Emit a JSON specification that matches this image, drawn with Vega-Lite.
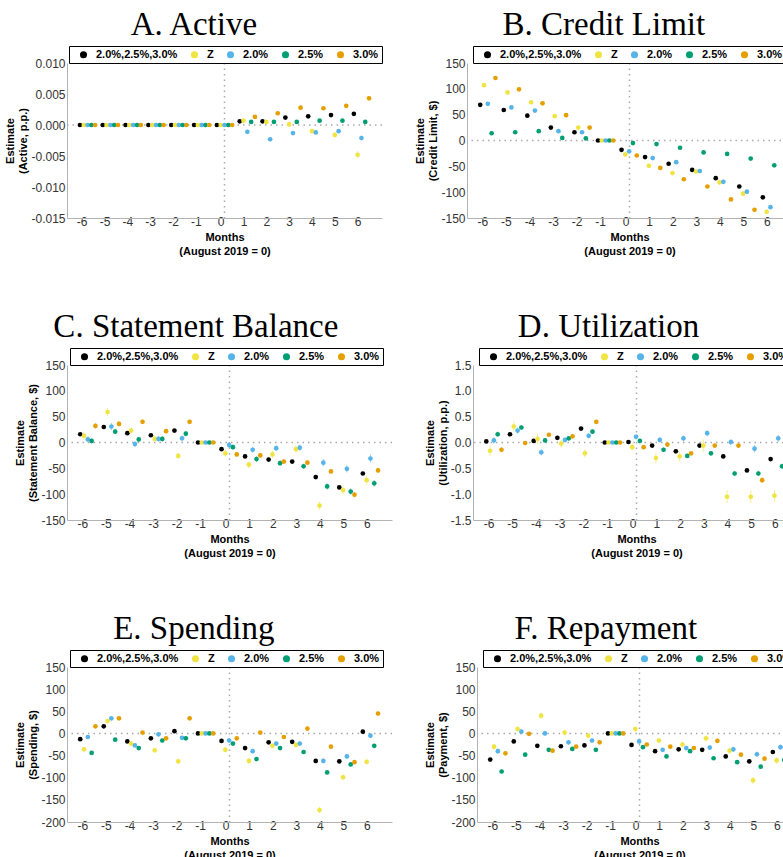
{
"$schema": "https://vega.github.io/schema/vega-lite/v6.json",
"background": "white",
"padding": {"left": 4, "top": 8, "right": 0, "bottom": 0},
"config": {
 "view": {"stroke": null},
 "font": "Liberation Sans",
 "axis": {"labelFont": "Liberation Sans", "labelFontSize": 12, "labelColor": "#333333", "titleFont": "Liberation Sans", "titleFontSize": 11, "titleFontWeight": "bold", "titleColor": "black", "titleLineHeight": 13, "grid": false, "domainColor": "#b3b3b3", "tickColor": "#b3b3b3", "tickSize": 2, "labelOverlap": false},
 "axisX": {"titleLineHeight": 14},
 "axisY": {"ticks": false, "tickCount": 12, "labelPadding": 2, "titlePadding": 2},
 "title": {"font": "Liberation Serif", "fontSize": 33, "fontWeight": "normal", "color": "black", "frame": "bounds", "anchor": "middle", "offset": 4},
 "legend": {"strokeColor": "black", "strokeWidth": 1, "fillColor": "white", "padding": 3, "symbolType": "circle", "symbolSize": 50, "symbolStrokeWidth": 0, "symbolOpacity": 1, "symbolOffset": 6, "labelFont": "Liberation Sans", "labelFontWeight": "bold", "labelFontSize": 11, "labelColor": "black", "labelOffset": 7, "columnPadding": 5}
},
"datasets": {"d": [
{"p":"A","m":-6,"s":"2.0%,2.5%,3.0%","y":0,"e":0},{"p":"A","m":-6,"s":"Z","y":0,"e":0},{"p":"A","m":-6,"s":"2.0%","y":0,"e":0},{"p":"A","m":-6,"s":"2.5%","y":0,"e":0},{"p":"A","m":-6,"s":"3.0%","y":0,"e":0},
{"p":"A","m":-5,"s":"2.0%,2.5%,3.0%","y":0,"e":0},{"p":"A","m":-5,"s":"Z","y":0,"e":0},{"p":"A","m":-5,"s":"2.0%","y":0,"e":0},{"p":"A","m":-5,"s":"2.5%","y":0,"e":0},{"p":"A","m":-5,"s":"3.0%","y":0,"e":0},
{"p":"A","m":-4,"s":"2.0%,2.5%,3.0%","y":0,"e":0},{"p":"A","m":-4,"s":"Z","y":0,"e":0},{"p":"A","m":-4,"s":"2.0%","y":0,"e":0},{"p":"A","m":-4,"s":"2.5%","y":0,"e":0},{"p":"A","m":-4,"s":"3.0%","y":0,"e":0},
{"p":"A","m":-3,"s":"2.0%,2.5%,3.0%","y":0,"e":0},{"p":"A","m":-3,"s":"Z","y":0,"e":0},{"p":"A","m":-3,"s":"2.0%","y":0,"e":0},{"p":"A","m":-3,"s":"2.5%","y":0,"e":0},{"p":"A","m":-3,"s":"3.0%","y":0,"e":0},
{"p":"A","m":-2,"s":"2.0%,2.5%,3.0%","y":0,"e":0},{"p":"A","m":-2,"s":"Z","y":0,"e":0},{"p":"A","m":-2,"s":"2.0%","y":0,"e":0},{"p":"A","m":-2,"s":"2.5%","y":0,"e":0},{"p":"A","m":-2,"s":"3.0%","y":0,"e":0},
{"p":"A","m":-1,"s":"2.0%,2.5%,3.0%","y":0,"e":0},{"p":"A","m":-1,"s":"Z","y":0,"e":0},{"p":"A","m":-1,"s":"2.0%","y":0,"e":0},{"p":"A","m":-1,"s":"2.5%","y":0,"e":0},{"p":"A","m":-1,"s":"3.0%","y":0,"e":0},
{"p":"A","m":0,"s":"2.0%,2.5%,3.0%","y":0,"e":0},{"p":"A","m":0,"s":"Z","y":0,"e":0},{"p":"A","m":0,"s":"2.0%","y":0,"e":0},{"p":"A","m":0,"s":"2.5%","y":0,"e":0},{"p":"A","m":0,"s":"3.0%","y":0,"e":0},
{"p":"A","m":1,"s":"2.0%,2.5%,3.0%","y":0.0006,"e":0.0001},{"p":"A","m":1,"s":"Z","y":0.0007,"e":0.0003},{"p":"A","m":1,"s":"2.0%","y":-0.0011,"e":0.0003},{"p":"A","m":1,"s":"2.5%","y":0.0005,"e":0.0002},{"p":"A","m":1,"s":"3.0%","y":0.0013,"e":0.0002},
{"p":"A","m":2,"s":"2.0%,2.5%,3.0%","y":0.0006,"e":0.0001},{"p":"A","m":2,"s":"Z","y":0.0005,"e":0.0003},{"p":"A","m":2,"s":"2.0%","y":-0.0023,"e":0.0003},{"p":"A","m":2,"s":"2.5%","y":0.0005,"e":0.0002},{"p":"A","m":2,"s":"3.0%","y":0.0019,"e":0.0002},
{"p":"A","m":3,"s":"2.0%,2.5%,3.0%","y":0.0012,"e":0.0001},{"p":"A","m":3,"s":"Z","y":0.0001,"e":0.0004},{"p":"A","m":3,"s":"2.0%","y":-0.0013,"e":0.0003},{"p":"A","m":3,"s":"2.5%","y":0.0005,"e":0.0002},{"p":"A","m":3,"s":"3.0%","y":0.0028,"e":0.0002},
{"p":"A","m":4,"s":"2.0%,2.5%,3.0%","y":0.0014,"e":0.0001},{"p":"A","m":4,"s":"Z","y":-0.0010,"e":0.0004},{"p":"A","m":4,"s":"2.0%","y":-0.0012,"e":0.0003},{"p":"A","m":4,"s":"2.5%","y":0.0007,"e":0.0002},{"p":"A","m":4,"s":"3.0%","y":0.0027,"e":0.0002},
{"p":"A","m":5,"s":"2.0%,2.5%,3.0%","y":0.0016,"e":0.0001},{"p":"A","m":5,"s":"Z","y":-0.0016,"e":0.0005},{"p":"A","m":5,"s":"2.0%","y":-0.0010,"e":0.0003},{"p":"A","m":5,"s":"2.5%","y":0.0007,"e":0.0002},{"p":"A","m":5,"s":"3.0%","y":0.0031,"e":0.0002},
{"p":"A","m":6,"s":"2.0%,2.5%,3.0%","y":0.0018,"e":0.0001},{"p":"A","m":6,"s":"Z","y":-0.0048,"e":0.0006},{"p":"A","m":6,"s":"2.0%","y":-0.0021,"e":0.0004},{"p":"A","m":6,"s":"2.5%","y":0.0005,"e":0.0002},{"p":"A","m":6,"s":"3.0%","y":0.0043,"e":0.0002},

{"p":"B","m":-6,"s":"2.0%,2.5%,3.0%","y":69,"e":1},{"p":"B","m":-6,"s":"Z","y":107,"e":4},{"p":"B","m":-6,"s":"2.0%","y":71,"e":3},{"p":"B","m":-6,"s":"2.5%","y":14,"e":2},{"p":"B","m":-6,"s":"3.0%","y":121,"e":3},
{"p":"B","m":-5,"s":"2.0%,2.5%,3.0%","y":59,"e":1},{"p":"B","m":-5,"s":"Z","y":93,"e":4},{"p":"B","m":-5,"s":"2.0%","y":64,"e":3},{"p":"B","m":-5,"s":"2.5%","y":16,"e":2},{"p":"B","m":-5,"s":"3.0%","y":99,"e":3},
{"p":"B","m":-4,"s":"2.0%,2.5%,3.0%","y":48,"e":1},{"p":"B","m":-4,"s":"Z","y":74,"e":4},{"p":"B","m":-4,"s":"2.0%","y":58,"e":3},{"p":"B","m":-4,"s":"2.5%","y":18,"e":2},{"p":"B","m":-4,"s":"3.0%","y":72,"e":3},
{"p":"B","m":-3,"s":"2.0%,2.5%,3.0%","y":25,"e":1},{"p":"B","m":-3,"s":"Z","y":47,"e":3},{"p":"B","m":-3,"s":"2.0%","y":18,"e":3},{"p":"B","m":-3,"s":"2.5%","y":5,"e":2},{"p":"B","m":-3,"s":"3.0%","y":49,"e":2},
{"p":"B","m":-2,"s":"2.0%,2.5%,3.0%","y":16,"e":1},{"p":"B","m":-2,"s":"Z","y":25,"e":3},{"p":"B","m":-2,"s":"2.0%","y":16,"e":3},{"p":"B","m":-2,"s":"2.5%","y":4,"e":2},{"p":"B","m":-2,"s":"3.0%","y":25,"e":2},
{"p":"B","m":-1,"s":"2.0%,2.5%,3.0%","y":0,"e":0},{"p":"B","m":-1,"s":"Z","y":0,"e":0},{"p":"B","m":-1,"s":"2.0%","y":0,"e":0},{"p":"B","m":-1,"s":"2.5%","y":0,"e":0},{"p":"B","m":-1,"s":"3.0%","y":0,"e":0},
{"p":"B","m":0,"s":"2.0%,2.5%,3.0%","y":-18,"e":1},{"p":"B","m":0,"s":"Z","y":-27,"e":3},{"p":"B","m":0,"s":"2.0%","y":-21,"e":3},{"p":"B","m":0,"s":"2.5%","y":-5,"e":2},{"p":"B","m":0,"s":"3.0%","y":-29,"e":2},
{"p":"B","m":1,"s":"2.0%,2.5%,3.0%","y":-32,"e":1},{"p":"B","m":1,"s":"Z","y":-49,"e":3},{"p":"B","m":1,"s":"2.0%","y":-34,"e":3},{"p":"B","m":1,"s":"2.5%","y":-7,"e":2},{"p":"B","m":1,"s":"3.0%","y":-53,"e":2},
{"p":"B","m":2,"s":"2.0%,2.5%,3.0%","y":-45,"e":1},{"p":"B","m":2,"s":"Z","y":-63,"e":4},{"p":"B","m":2,"s":"2.0%","y":-42,"e":3},{"p":"B","m":2,"s":"2.5%","y":-14,"e":2},{"p":"B","m":2,"s":"3.0%","y":-75,"e":2},
{"p":"B","m":3,"s":"2.0%,2.5%,3.0%","y":-57,"e":1},{"p":"B","m":3,"s":"Z","y":-60,"e":4},{"p":"B","m":3,"s":"2.0%","y":-59,"e":3},{"p":"B","m":3,"s":"2.5%","y":-23,"e":2},{"p":"B","m":3,"s":"3.0%","y":-89,"e":2},
{"p":"B","m":4,"s":"2.0%,2.5%,3.0%","y":-73,"e":1},{"p":"B","m":4,"s":"Z","y":-81,"e":5},{"p":"B","m":4,"s":"2.0%","y":-80,"e":4},{"p":"B","m":4,"s":"2.5%","y":-26,"e":2},{"p":"B","m":4,"s":"3.0%","y":-114,"e":3},
{"p":"B","m":5,"s":"2.0%,2.5%,3.0%","y":-89,"e":1},{"p":"B","m":5,"s":"Z","y":-103,"e":5},{"p":"B","m":5,"s":"2.0%","y":-99,"e":4},{"p":"B","m":5,"s":"2.5%","y":-35,"e":2},{"p":"B","m":5,"s":"3.0%","y":-134,"e":3},
{"p":"B","m":6,"s":"2.0%,2.5%,3.0%","y":-110,"e":1},{"p":"B","m":6,"s":"Z","y":-138,"e":5},{"p":"B","m":6,"s":"2.0%","y":-129,"e":4},{"p":"B","m":6,"s":"2.5%","y":-48,"e":2},{"p":"B","m":6,"s":"3.0%","y":-160,"e":3},

{"p":"C","m":-6,"s":"2.0%,2.5%,3.0%","y":16,"e":2},{"p":"C","m":-6,"s":"Z","y":13,"e":8},{"p":"C","m":-6,"s":"2.0%","y":6,"e":6},{"p":"C","m":-6,"s":"2.5%","y":3,"e":5},{"p":"C","m":-6,"s":"3.0%","y":32,"e":5},
{"p":"C","m":-5,"s":"2.0%,2.5%,3.0%","y":30,"e":2},{"p":"C","m":-5,"s":"Z","y":59,"e":8},{"p":"C","m":-5,"s":"2.0%","y":31,"e":7},{"p":"C","m":-5,"s":"2.5%","y":21,"e":5},{"p":"C","m":-5,"s":"3.0%","y":36,"e":5},
{"p":"C","m":-4,"s":"2.0%,2.5%,3.0%","y":18,"e":2},{"p":"C","m":-4,"s":"Z","y":23,"e":7},{"p":"C","m":-4,"s":"2.0%","y":-3,"e":6},{"p":"C","m":-4,"s":"2.5%","y":6,"e":5},{"p":"C","m":-4,"s":"3.0%","y":40,"e":4},
{"p":"C","m":-3,"s":"2.0%,2.5%,3.0%","y":14,"e":2},{"p":"C","m":-3,"s":"Z","y":7,"e":6},{"p":"C","m":-3,"s":"2.0%","y":7,"e":6},{"p":"C","m":-3,"s":"2.5%","y":7,"e":5},{"p":"C","m":-3,"s":"3.0%","y":22,"e":4},
{"p":"C","m":-2,"s":"2.0%,2.5%,3.0%","y":23,"e":2},{"p":"C","m":-2,"s":"Z","y":-26,"e":6},{"p":"C","m":-2,"s":"2.0%","y":8,"e":6},{"p":"C","m":-2,"s":"2.5%","y":17,"e":5},{"p":"C","m":-2,"s":"3.0%","y":40,"e":4},
{"p":"C","m":-1,"s":"2.0%,2.5%,3.0%","y":0,"e":0},{"p":"C","m":-1,"s":"Z","y":0,"e":0},{"p":"C","m":-1,"s":"2.0%","y":0,"e":0},{"p":"C","m":-1,"s":"2.5%","y":0,"e":0},{"p":"C","m":-1,"s":"3.0%","y":0,"e":0},
{"p":"C","m":0,"s":"2.0%,2.5%,3.0%","y":-13,"e":2},{"p":"C","m":0,"s":"Z","y":-21,"e":7},{"p":"C","m":0,"s":"2.0%","y":-5,"e":6},{"p":"C","m":0,"s":"2.5%","y":-9,"e":5},{"p":"C","m":0,"s":"3.0%","y":-23,"e":4},
{"p":"C","m":1,"s":"2.0%,2.5%,3.0%","y":-27,"e":2},{"p":"C","m":1,"s":"Z","y":-43,"e":7},{"p":"C","m":1,"s":"2.0%","y":-14,"e":6},{"p":"C","m":1,"s":"2.5%","y":-32,"e":5},{"p":"C","m":1,"s":"3.0%","y":-25,"e":4},
{"p":"C","m":2,"s":"2.0%,2.5%,3.0%","y":-33,"e":2},{"p":"C","m":2,"s":"Z","y":-23,"e":7},{"p":"C","m":2,"s":"2.0%","y":-11,"e":6},{"p":"C","m":2,"s":"2.5%","y":-40,"e":5},{"p":"C","m":2,"s":"3.0%","y":-37,"e":4},
{"p":"C","m":3,"s":"2.0%,2.5%,3.0%","y":-37,"e":2},{"p":"C","m":3,"s":"Z","y":-13,"e":8},{"p":"C","m":3,"s":"2.0%","y":-10,"e":6},{"p":"C","m":3,"s":"2.5%","y":-46,"e":5},{"p":"C","m":3,"s":"3.0%","y":-39,"e":4},
{"p":"C","m":4,"s":"2.0%,2.5%,3.0%","y":-67,"e":2},{"p":"C","m":4,"s":"Z","y":-122,"e":8},{"p":"C","m":4,"s":"2.0%","y":-39,"e":7},{"p":"C","m":4,"s":"2.5%","y":-85,"e":6},{"p":"C","m":4,"s":"3.0%","y":-56,"e":4},
{"p":"C","m":5,"s":"2.0%,2.5%,3.0%","y":-87,"e":2},{"p":"C","m":5,"s":"Z","y":-92,"e":9},{"p":"C","m":5,"s":"2.0%","y":-51,"e":7},{"p":"C","m":5,"s":"2.5%","y":-95,"e":6},{"p":"C","m":5,"s":"3.0%","y":-101,"e":5},
{"p":"C","m":6,"s":"2.0%,2.5%,3.0%","y":-60,"e":2},{"p":"C","m":6,"s":"Z","y":-73,"e":9},{"p":"C","m":6,"s":"2.0%","y":-31,"e":8},{"p":"C","m":6,"s":"2.5%","y":-79,"e":6},{"p":"C","m":6,"s":"3.0%","y":-54,"e":5},

{"p":"D","m":-6,"s":"2.0%,2.5%,3.0%","y":0.02,"e":0.01},{"p":"D","m":-6,"s":"Z","y":-0.16,"e":0.1},{"p":"D","m":-6,"s":"2.0%","y":0.04,"e":0.06},{"p":"D","m":-6,"s":"2.5%","y":0.16,"e":0.05},{"p":"D","m":-6,"s":"3.0%","y":-0.14,"e":0.05},
{"p":"D","m":-5,"s":"2.0%,2.5%,3.0%","y":0.16,"e":0.01},{"p":"D","m":-5,"s":"Z","y":0.31,"e":0.1},{"p":"D","m":-5,"s":"2.0%","y":0.23,"e":0.06},{"p":"D","m":-5,"s":"2.5%","y":0.29,"e":0.04},{"p":"D","m":-5,"s":"3.0%","y":-0.01,"e":0.04},
{"p":"D","m":-4,"s":"2.0%,2.5%,3.0%","y":0.03,"e":0.01},{"p":"D","m":-4,"s":"Z","y":0.07,"e":0.1},{"p":"D","m":-4,"s":"2.0%","y":-0.19,"e":0.06},{"p":"D","m":-4,"s":"2.5%","y":0.04,"e":0.04},{"p":"D","m":-4,"s":"3.0%","y":0.15,"e":0.04},
{"p":"D","m":-3,"s":"2.0%,2.5%,3.0%","y":0.09,"e":0.01},{"p":"D","m":-3,"s":"Z","y":-0.02,"e":0.08},{"p":"D","m":-3,"s":"2.0%","y":0.05,"e":0.05},{"p":"D","m":-3,"s":"2.5%","y":0.08,"e":0.04},{"p":"D","m":-3,"s":"3.0%","y":0.12,"e":0.04},
{"p":"D","m":-2,"s":"2.0%,2.5%,3.0%","y":0.27,"e":0.01},{"p":"D","m":-2,"s":"Z","y":-0.21,"e":0.08},{"p":"D","m":-2,"s":"2.0%","y":0.13,"e":0.05},{"p":"D","m":-2,"s":"2.5%","y":0.21,"e":0.04},{"p":"D","m":-2,"s":"3.0%","y":0.40,"e":0.04},
{"p":"D","m":-1,"s":"2.0%,2.5%,3.0%","y":0,"e":0},{"p":"D","m":-1,"s":"Z","y":0,"e":0},{"p":"D","m":-1,"s":"2.0%","y":0,"e":0},{"p":"D","m":-1,"s":"2.5%","y":0,"e":0},{"p":"D","m":-1,"s":"3.0%","y":0,"e":0},
{"p":"D","m":0,"s":"2.0%,2.5%,3.0%","y":0.01,"e":0.01},{"p":"D","m":0,"s":"Z","y":-0.09,"e":0.08},{"p":"D","m":0,"s":"2.0%","y":0.11,"e":0.05},{"p":"D","m":0,"s":"2.5%","y":0.03,"e":0.04},{"p":"D","m":0,"s":"3.0%","y":-0.09,"e":0.04},
{"p":"D","m":1,"s":"2.0%,2.5%,3.0%","y":-0.06,"e":0.01},{"p":"D","m":1,"s":"Z","y":-0.30,"e":0.1},{"p":"D","m":1,"s":"2.0%","y":0.05,"e":0.05},{"p":"D","m":1,"s":"2.5%","y":-0.14,"e":0.04},{"p":"D","m":1,"s":"3.0%","y":-0.04,"e":0.04},
{"p":"D","m":2,"s":"2.0%,2.5%,3.0%","y":-0.17,"e":0.01},{"p":"D","m":2,"s":"Z","y":-0.27,"e":0.1},{"p":"D","m":2,"s":"2.0%","y":0.08,"e":0.06},{"p":"D","m":2,"s":"2.5%","y":-0.26,"e":0.04},{"p":"D","m":2,"s":"3.0%","y":-0.21,"e":0.04},
{"p":"D","m":3,"s":"2.0%,2.5%,3.0%","y":-0.06,"e":0.01},{"p":"D","m":3,"s":"Z","y":-0.06,"e":0.12},{"p":"D","m":3,"s":"2.0%","y":0.18,"e":0.06},{"p":"D","m":3,"s":"2.5%","y":-0.21,"e":0.04},{"p":"D","m":3,"s":"3.0%","y":-0.06,"e":0.04},
{"p":"D","m":4,"s":"2.0%,2.5%,3.0%","y":-0.27,"e":0.01},{"p":"D","m":4,"s":"Z","y":-1.05,"e":0.12},{"p":"D","m":4,"s":"2.0%","y":0.01,"e":0.06},{"p":"D","m":4,"s":"2.5%","y":-0.60,"e":0.05},{"p":"D","m":4,"s":"3.0%","y":-0.06,"e":0.04},
{"p":"D","m":5,"s":"2.0%,2.5%,3.0%","y":-0.54,"e":0.01},{"p":"D","m":5,"s":"Z","y":-1.05,"e":0.12},{"p":"D","m":5,"s":"2.0%","y":-0.12,"e":0.07},{"p":"D","m":5,"s":"2.5%","y":-0.60,"e":0.05},{"p":"D","m":5,"s":"3.0%","y":-0.73,"e":0.05},
{"p":"D","m":6,"s":"2.0%,2.5%,3.0%","y":-0.32,"e":0.01},{"p":"D","m":6,"s":"Z","y":-1.03,"e":0.12},{"p":"D","m":6,"s":"2.0%","y":0.08,"e":0.07},{"p":"D","m":6,"s":"2.5%","y":-0.46,"e":0.05},{"p":"D","m":6,"s":"3.0%","y":-0.34,"e":0.05},

{"p":"E","m":-6,"s":"2.0%,2.5%,3.0%","y":-13,"e":1},{"p":"E","m":-6,"s":"Z","y":-36,"e":6},{"p":"E","m":-6,"s":"2.0%","y":-8,"e":4},{"p":"E","m":-6,"s":"2.5%","y":-44,"e":4},{"p":"E","m":-6,"s":"3.0%","y":16,"e":4},
{"p":"E","m":-5,"s":"2.0%,2.5%,3.0%","y":16,"e":1},{"p":"E","m":-5,"s":"Z","y":28,"e":5},{"p":"E","m":-5,"s":"2.0%","y":34,"e":5},{"p":"E","m":-5,"s":"2.5%","y":-14,"e":4},{"p":"E","m":-5,"s":"3.0%","y":34,"e":3},
{"p":"E","m":-4,"s":"2.0%,2.5%,3.0%","y":-18,"e":1},{"p":"E","m":-4,"s":"Z","y":-23,"e":5},{"p":"E","m":-4,"s":"2.0%","y":-27,"e":4},{"p":"E","m":-4,"s":"2.5%","y":-33,"e":4},{"p":"E","m":-4,"s":"3.0%","y":2,"e":3},
{"p":"E","m":-3,"s":"2.0%,2.5%,3.0%","y":-11,"e":1},{"p":"E","m":-3,"s":"Z","y":-38,"e":6},{"p":"E","m":-3,"s":"2.0%","y":-2,"e":5},{"p":"E","m":-3,"s":"2.5%","y":-16,"e":4},{"p":"E","m":-3,"s":"3.0%","y":-11,"e":3},
{"p":"E","m":-2,"s":"2.0%,2.5%,3.0%","y":5,"e":1},{"p":"E","m":-2,"s":"Z","y":-63,"e":6},{"p":"E","m":-2,"s":"2.0%","y":-10,"e":4},{"p":"E","m":-2,"s":"2.5%","y":-11,"e":4},{"p":"E","m":-2,"s":"3.0%","y":34,"e":3},
{"p":"E","m":-1,"s":"2.0%,2.5%,3.0%","y":0,"e":0},{"p":"E","m":-1,"s":"Z","y":0,"e":0},{"p":"E","m":-1,"s":"2.0%","y":0,"e":0},{"p":"E","m":-1,"s":"2.5%","y":0,"e":0},{"p":"E","m":-1,"s":"3.0%","y":0,"e":0},
{"p":"E","m":0,"s":"2.0%,2.5%,3.0%","y":-17,"e":1},{"p":"E","m":0,"s":"Z","y":-37,"e":6},{"p":"E","m":0,"s":"2.0%","y":-16,"e":5},{"p":"E","m":0,"s":"2.5%","y":-23,"e":4},{"p":"E","m":0,"s":"3.0%","y":-11,"e":3},
{"p":"E","m":1,"s":"2.0%,2.5%,3.0%","y":-33,"e":1},{"p":"E","m":1,"s":"Z","y":-62,"e":6},{"p":"E","m":1,"s":"2.0%","y":-40,"e":5},{"p":"E","m":1,"s":"2.5%","y":-58,"e":4},{"p":"E","m":1,"s":"3.0%","y":2,"e":3},
{"p":"E","m":2,"s":"2.0%,2.5%,3.0%","y":-20,"e":1},{"p":"E","m":2,"s":"Z","y":-28,"e":6},{"p":"E","m":2,"s":"2.0%","y":-23,"e":5},{"p":"E","m":2,"s":"2.5%","y":-33,"e":4},{"p":"E","m":2,"s":"3.0%","y":-8,"e":3},
{"p":"E","m":3,"s":"2.0%,2.5%,3.0%","y":-19,"e":1},{"p":"E","m":3,"s":"Z","y":-26,"e":6},{"p":"E","m":3,"s":"2.0%","y":-23,"e":5},{"p":"E","m":3,"s":"2.5%","y":-42,"e":4},{"p":"E","m":3,"s":"3.0%","y":11,"e":3},
{"p":"E","m":4,"s":"2.0%,2.5%,3.0%","y":-62,"e":1},{"p":"E","m":4,"s":"Z","y":-173,"e":7},{"p":"E","m":4,"s":"2.0%","y":-62,"e":5},{"p":"E","m":4,"s":"2.5%","y":-88,"e":4},{"p":"E","m":4,"s":"3.0%","y":-30,"e":3},
{"p":"E","m":5,"s":"2.0%,2.5%,3.0%","y":-63,"e":1},{"p":"E","m":5,"s":"Z","y":-99,"e":7},{"p":"E","m":5,"s":"2.0%","y":-52,"e":5},{"p":"E","m":5,"s":"2.5%","y":-70,"e":4},{"p":"E","m":5,"s":"3.0%","y":-65,"e":4},
{"p":"E","m":6,"s":"2.0%,2.5%,3.0%","y":4,"e":1},{"p":"E","m":6,"s":"Z","y":-64,"e":7},{"p":"E","m":6,"s":"2.0%","y":-5,"e":6},{"p":"E","m":6,"s":"2.5%","y":-28,"e":4},{"p":"E","m":6,"s":"3.0%","y":45,"e":4},

{"p":"F","m":-6,"s":"2.0%,2.5%,3.0%","y":-59,"e":1},{"p":"F","m":-6,"s":"Z","y":-30,"e":7},{"p":"F","m":-6,"s":"2.0%","y":-40,"e":6},{"p":"F","m":-6,"s":"2.5%","y":-86,"e":4},{"p":"F","m":-6,"s":"3.0%","y":-45,"e":4},
{"p":"F","m":-5,"s":"2.0%,2.5%,3.0%","y":-18,"e":1},{"p":"F","m":-5,"s":"Z","y":10,"e":7},{"p":"F","m":-5,"s":"2.0%","y":4,"e":6},{"p":"F","m":-5,"s":"2.5%","y":-48,"e":4},{"p":"F","m":-5,"s":"3.0%","y":-1,"e":3},
{"p":"F","m":-4,"s":"2.0%,2.5%,3.0%","y":-28,"e":1},{"p":"F","m":-4,"s":"Z","y":40,"e":7},{"p":"F","m":-4,"s":"2.0%","y":0,"e":5},{"p":"F","m":-4,"s":"2.5%","y":-37,"e":4},{"p":"F","m":-4,"s":"3.0%","y":-39,"e":3},
{"p":"F","m":-3,"s":"2.0%,2.5%,3.0%","y":-29,"e":1},{"p":"F","m":-3,"s":"Z","y":2,"e":7},{"p":"F","m":-3,"s":"2.0%","y":-20,"e":5},{"p":"F","m":-3,"s":"2.5%","y":-35,"e":4},{"p":"F","m":-3,"s":"3.0%","y":-30,"e":3},
{"p":"F","m":-2,"s":"2.0%,2.5%,3.0%","y":-27,"e":1},{"p":"F","m":-2,"s":"Z","y":-5,"e":6},{"p":"F","m":-2,"s":"2.0%","y":-16,"e":5},{"p":"F","m":-2,"s":"2.5%","y":-37,"e":4},{"p":"F","m":-2,"s":"3.0%","y":-20,"e":3},
{"p":"F","m":-1,"s":"2.0%,2.5%,3.0%","y":0,"e":0},{"p":"F","m":-1,"s":"Z","y":0,"e":0},{"p":"F","m":-1,"s":"2.0%","y":0,"e":0},{"p":"F","m":-1,"s":"2.5%","y":0,"e":0},{"p":"F","m":-1,"s":"3.0%","y":0,"e":0},
{"p":"F","m":0,"s":"2.0%,2.5%,3.0%","y":-26,"e":1},{"p":"F","m":0,"s":"Z","y":10,"e":6},{"p":"F","m":0,"s":"2.0%","y":-18,"e":5},{"p":"F","m":0,"s":"2.5%","y":-31,"e":4},{"p":"F","m":0,"s":"3.0%","y":-25,"e":3},
{"p":"F","m":1,"s":"2.0%,2.5%,3.0%","y":-40,"e":1},{"p":"F","m":1,"s":"Z","y":-16,"e":7},{"p":"F","m":1,"s":"2.0%","y":-37,"e":5},{"p":"F","m":1,"s":"2.5%","y":-52,"e":4},{"p":"F","m":1,"s":"3.0%","y":-30,"e":3},
{"p":"F","m":2,"s":"2.0%,2.5%,3.0%","y":-36,"e":1},{"p":"F","m":2,"s":"Z","y":-25,"e":7},{"p":"F","m":2,"s":"2.0%","y":-33,"e":5},{"p":"F","m":2,"s":"2.5%","y":-40,"e":4},{"p":"F","m":2,"s":"3.0%","y":-33,"e":3},
{"p":"F","m":3,"s":"2.0%,2.5%,3.0%","y":-37,"e":1},{"p":"F","m":3,"s":"Z","y":-11,"e":7},{"p":"F","m":3,"s":"2.0%","y":-32,"e":5},{"p":"F","m":3,"s":"2.5%","y":-56,"e":4},{"p":"F","m":3,"s":"3.0%","y":-17,"e":3},
{"p":"F","m":4,"s":"2.0%,2.5%,3.0%","y":-52,"e":1},{"p":"F","m":4,"s":"Z","y":-39,"e":7},{"p":"F","m":4,"s":"2.0%","y":-36,"e":6},{"p":"F","m":4,"s":"2.5%","y":-65,"e":4},{"p":"F","m":4,"s":"3.0%","y":-48,"e":3},
{"p":"F","m":5,"s":"2.0%,2.5%,3.0%","y":-63,"e":1},{"p":"F","m":5,"s":"Z","y":-106,"e":8},{"p":"F","m":5,"s":"2.0%","y":-47,"e":6},{"p":"F","m":5,"s":"2.5%","y":-75,"e":4},{"p":"F","m":5,"s":"3.0%","y":-57,"e":4},
{"p":"F","m":6,"s":"2.0%,2.5%,3.0%","y":-42,"e":1},{"p":"F","m":6,"s":"Z","y":-61,"e":8},{"p":"F","m":6,"s":"2.0%","y":-31,"e":6},{"p":"F","m":6,"s":"2.5%","y":-60,"e":4},{"p":"F","m":6,"s":"3.0%","y":-33,"e":4}
]},
"resolve": {"scale": {"color": "independent"}, "legend": {"color": "independent"}},
"spacing": 54,
"vconcat": [
{"spacing": 31, "resolve": {"scale": {"color": "independent"}, "legend": {"color": "independent"}}, "hconcat": [
 {"width": 315, "height": 155, "title": {"text": "A. Active"}, "data": {"name": "d"}, "transform": [{"filter": "datum.p == 'A'"}],
  "layer": [
   {"data": {"values": [{}]}, "mark": {"type": "rule", "strokeDash": [1.5, 4], "color": "#aaaaaa", "strokeWidth": 1.5}, "encoding": {"y": {"datum": 0, "type": "quantitative"}}},
   {"data": {"values": [{}]}, "mark": {"type": "rule", "strokeDash": [1.5, 4], "color": "#aaaaaa", "strokeWidth": 1.5}, "encoding": {"x": {"datum": 0, "type": "ordinal", "bandPosition": 0.5}}},
   {"mark": {"type": "errorbar", "ticks": false, "thickness": 1, "opacity": 0.6, "clip": true}, "encoding": {"x": {"field": "m", "type": "ordinal"}, "xOffset": {"field": "s", "type": "nominal"}, "y": {"field": "y", "type": "quantitative", "title": ["Estimate", "(Active, p.p.)"]}, "yError": {"field": "e"}, "color": {"field": "s", "type": "nominal"}}},
   {"mark": {"type": "point", "filled": true, "size": 22, "opacity": 1, "clip": true}, "encoding": {
     "x": {"field": "m", "type": "ordinal", "scale": {"type": "band", "domain": [-6,-5,-4,-3,-2,-1,0,1,2,3,4,5,6], "paddingInner": 0, "paddingOuter": 0.4}, "axis": {"title": ["Months", "(August 2019 = 0)"], "ticks": false, "labelAngle": 0, "labelPadding": 3, "titlePadding": 4}},
     "xOffset": {"field": "s", "type": "nominal", "scale": {"type": "point", "padding": 3, "domain": ["2.0%,2.5%,3.0%", "Z", "2.0%", "2.5%", "3.0%"]}},
     "y": {"field": "y", "type": "quantitative", "scale": {"domain": [-0.015, 0.01], "nice": false, "zero": false}, "axis": {"values": [-0.015, -0.01, -0.005, 0, 0.005, 0.01], "labelExpr": "replace(format(datum.value, '.3f'), '\u2212', '-')", "title": ["Estimate", "(Active, p.p.)"]}},
     "color": {"field": "s", "type": "nominal", "scale": {"domain": ["2.0%,2.5%,3.0%", "Z", "2.0%", "2.5%", "3.0%"], "range": ["#000000", "#F0E442", "#56B4E9", "#009E73", "#E69F00"]}, "legend": {"orient": "none", "legendX": 2, "legendY": -17, "direction": "horizontal", "title": null}}}}
  ]},
 {"width": 325, "height": 155, "title": {"text": "B. Credit Limit"}, "data": {"name": "d"}, "transform": [{"filter": "datum.p == 'B'"}],
  "layer": [
   {"data": {"values": [{}]}, "mark": {"type": "rule", "strokeDash": [1.5, 4], "color": "#aaaaaa", "strokeWidth": 1.5}, "encoding": {"y": {"datum": 0, "type": "quantitative"}}},
   {"data": {"values": [{}]}, "mark": {"type": "rule", "strokeDash": [1.5, 4], "color": "#aaaaaa", "strokeWidth": 1.5}, "encoding": {"x": {"datum": 0, "type": "ordinal", "bandPosition": 0.5}}},
   {"mark": {"type": "errorbar", "ticks": false, "thickness": 1, "opacity": 0.6, "clip": true}, "encoding": {"x": {"field": "m", "type": "ordinal"}, "xOffset": {"field": "s", "type": "nominal"}, "y": {"field": "y", "type": "quantitative", "title": ["Estimate", "(Credit Limit, $)"]}, "yError": {"field": "e"}, "color": {"field": "s", "type": "nominal"}}},
   {"mark": {"type": "point", "filled": true, "size": 22, "opacity": 1, "clip": true}, "encoding": {
     "x": {"field": "m", "type": "ordinal", "scale": {"type": "band", "domain": [-6,-5,-4,-3,-2,-1,0,1,2,3,4,5,6], "paddingInner": 0, "paddingOuter": 0.4}, "axis": {"title": ["Months", "(August 2019 = 0)"], "ticks": false, "labelAngle": 0, "labelPadding": 3, "titlePadding": 4}},
     "xOffset": {"field": "s", "type": "nominal", "scale": {"type": "point", "padding": 3, "domain": ["2.0%,2.5%,3.0%", "Z", "2.0%", "2.5%", "3.0%"]}},
     "y": {"field": "y", "type": "quantitative", "scale": {"domain": [-150, 150], "nice": false, "zero": false}, "axis": {"values": [-150, -100, -50, 0, 50, 100, 150], "labelExpr": "replace(format(datum.value, 'd'), '\u2212', '-')", "title": ["Estimate", "(Credit Limit, $)"]}},
     "color": {"field": "s", "type": "nominal", "scale": {"domain": ["2.0%,2.5%,3.0%", "Z", "2.0%", "2.5%", "3.0%"], "range": ["#000000", "#F0E442", "#56B4E9", "#009E73", "#E69F00"]}, "legend": {"orient": "none", "legendX": 6, "legendY": -17, "direction": "horizontal", "title": null}}}}
  ]}
]},
{"spacing": 31, "resolve": {"scale": {"color": "independent"}, "legend": {"color": "independent"}}, "hconcat": [
 {"width": 325, "height": 155, "title": {"text": "C. Statement Balance", "dx": -8}, "data": {"name": "d"}, "transform": [{"filter": "datum.p == 'C'"}],
  "layer": [
   {"data": {"values": [{}]}, "mark": {"type": "rule", "strokeDash": [1.5, 4], "color": "#aaaaaa", "strokeWidth": 1.5}, "encoding": {"y": {"datum": 0, "type": "quantitative"}}},
   {"data": {"values": [{}]}, "mark": {"type": "rule", "strokeDash": [1.5, 4], "color": "#aaaaaa", "strokeWidth": 1.5}, "encoding": {"x": {"datum": 0, "type": "ordinal", "bandPosition": 0.5}}},
   {"mark": {"type": "errorbar", "ticks": false, "thickness": 1, "opacity": 0.6, "clip": true}, "encoding": {"x": {"field": "m", "type": "ordinal"}, "xOffset": {"field": "s", "type": "nominal"}, "y": {"field": "y", "type": "quantitative", "title": ["Estimate", "(Statement Balance, $)"]}, "yError": {"field": "e"}, "color": {"field": "s", "type": "nominal"}}},
   {"mark": {"type": "point", "filled": true, "size": 22, "opacity": 1, "clip": true}, "encoding": {
     "x": {"field": "m", "type": "ordinal", "scale": {"type": "band", "domain": [-6,-5,-4,-3,-2,-1,0,1,2,3,4,5,6], "paddingInner": 0, "paddingOuter": 0.4}, "axis": {"title": ["Months", "(August 2019 = 0)"], "ticks": false, "labelAngle": 0, "labelPadding": 3, "titlePadding": 4}},
     "xOffset": {"field": "s", "type": "nominal", "scale": {"type": "point", "padding": 3, "domain": ["2.0%,2.5%,3.0%", "Z", "2.0%", "2.5%", "3.0%"]}},
     "y": {"field": "y", "type": "quantitative", "scale": {"domain": [-150, 150], "nice": false, "zero": false}, "axis": {"values": [-150, -100, -50, 0, 50, 100, 150], "labelExpr": "replace(format(datum.value, 'd'), '\u2212', '-')", "title": ["Estimate", "(Statement Balance, $)"]}},
     "color": {"field": "s", "type": "nominal", "scale": {"domain": ["2.0%,2.5%,3.0%", "Z", "2.0%", "2.5%", "3.0%"], "range": ["#000000", "#F0E442", "#56B4E9", "#009E73", "#E69F00"]}, "legend": {"orient": "none", "legendX": 3, "legendY": -17, "direction": "horizontal", "title": null}}}}
  ]},
 {"width": 327, "height": 155, "title": {"text": "D. Utilization", "dx": -4}, "data": {"name": "d"}, "transform": [{"filter": "datum.p == 'D'"}],
  "layer": [
   {"data": {"values": [{}]}, "mark": {"type": "rule", "strokeDash": [1.5, 4], "color": "#aaaaaa", "strokeWidth": 1.5}, "encoding": {"y": {"datum": 0, "type": "quantitative"}}},
   {"data": {"values": [{}]}, "mark": {"type": "rule", "strokeDash": [1.5, 4], "color": "#aaaaaa", "strokeWidth": 1.5}, "encoding": {"x": {"datum": 0, "type": "ordinal", "bandPosition": 0.5}}},
   {"mark": {"type": "errorbar", "ticks": false, "thickness": 1, "opacity": 0.6, "clip": true}, "encoding": {"x": {"field": "m", "type": "ordinal"}, "xOffset": {"field": "s", "type": "nominal"}, "y": {"field": "y", "type": "quantitative", "title": ["Estimate", "(Utilization, p.p.)"]}, "yError": {"field": "e"}, "color": {"field": "s", "type": "nominal"}}},
   {"mark": {"type": "point", "filled": true, "size": 22, "opacity": 1, "clip": true}, "encoding": {
     "x": {"field": "m", "type": "ordinal", "scale": {"type": "band", "domain": [-6,-5,-4,-3,-2,-1,0,1,2,3,4,5,6], "paddingInner": 0, "paddingOuter": 0.4}, "axis": {"title": ["Months", "(August 2019 = 0)"], "ticks": false, "labelAngle": 0, "labelPadding": 3, "titlePadding": 4}},
     "xOffset": {"field": "s", "type": "nominal", "scale": {"type": "point", "padding": 3, "domain": ["2.0%,2.5%,3.0%", "Z", "2.0%", "2.5%", "3.0%"]}},
     "y": {"field": "y", "type": "quantitative", "scale": {"domain": [-1.5, 1.5], "nice": false, "zero": false}, "axis": {"values": [-1.5, -1, -0.5, 0, 0.5, 1, 1.5], "labelExpr": "replace(format(datum.value, '.1f'), '\u2212', '-')", "title": ["Estimate", "(Utilization, p.p.)"]}},
     "color": {"field": "s", "type": "nominal", "scale": {"domain": ["2.0%,2.5%,3.0%", "Z", "2.0%", "2.5%", "3.0%"], "range": ["#000000", "#F0E442", "#56B4E9", "#009E73", "#E69F00"]}, "legend": {"orient": "none", "legendX": 6, "legendY": -17, "direction": "horizontal", "title": null}}}}
  ]}
]},
{"spacing": 31, "resolve": {"scale": {"color": "independent"}, "legend": {"color": "independent"}}, "hconcat": [
 {"width": 325, "height": 155, "title": {"text": "E. Spending", "dx": -10}, "data": {"name": "d"}, "transform": [{"filter": "datum.p == 'E'"}],
  "layer": [
   {"data": {"values": [{}]}, "mark": {"type": "rule", "strokeDash": [1.5, 4], "color": "#aaaaaa", "strokeWidth": 1.5}, "encoding": {"y": {"datum": 0, "type": "quantitative"}}},
   {"data": {"values": [{}]}, "mark": {"type": "rule", "strokeDash": [1.5, 4], "color": "#aaaaaa", "strokeWidth": 1.5}, "encoding": {"x": {"datum": 0, "type": "ordinal", "bandPosition": 0.5}}},
   {"mark": {"type": "errorbar", "ticks": false, "thickness": 1, "opacity": 0.6, "clip": true}, "encoding": {"x": {"field": "m", "type": "ordinal"}, "xOffset": {"field": "s", "type": "nominal"}, "y": {"field": "y", "type": "quantitative", "title": ["Estimate", "(Spending, $)"]}, "yError": {"field": "e"}, "color": {"field": "s", "type": "nominal"}}},
   {"mark": {"type": "point", "filled": true, "size": 22, "opacity": 1, "clip": true}, "encoding": {
     "x": {"field": "m", "type": "ordinal", "scale": {"type": "band", "domain": [-6,-5,-4,-3,-2,-1,0,1,2,3,4,5,6], "paddingInner": 0, "paddingOuter": 0.4}, "axis": {"title": ["Months", "(August 2019 = 0)"], "ticks": false, "labelAngle": 0, "labelPadding": 3, "titlePadding": 4}},
     "xOffset": {"field": "s", "type": "nominal", "scale": {"type": "point", "padding": 3, "domain": ["2.0%,2.5%,3.0%", "Z", "2.0%", "2.5%", "3.0%"]}},
     "y": {"field": "y", "type": "quantitative", "scale": {"domain": [-200, 150], "nice": false, "zero": false}, "axis": {"values": [-200, -150, -100, -50, 0, 50, 100, 150], "labelExpr": "replace(format(datum.value, 'd'), '\u2212', '-')", "title": ["Estimate", "(Spending, $)"]}},
     "color": {"field": "s", "type": "nominal", "scale": {"domain": ["2.0%,2.5%,3.0%", "Z", "2.0%", "2.5%", "3.0%"], "range": ["#000000", "#F0E442", "#56B4E9", "#009E73", "#E69F00"]}, "legend": {"orient": "none", "legendX": 3, "legendY": -17, "direction": "horizontal", "title": null}}}}
  ]},
 {"width": 325, "height": 155, "title": {"text": "F. Repayment", "dx": -8}, "data": {"name": "d"}, "transform": [{"filter": "datum.p == 'F'"}],
  "layer": [
   {"data": {"values": [{}]}, "mark": {"type": "rule", "strokeDash": [1.5, 4], "color": "#aaaaaa", "strokeWidth": 1.5}, "encoding": {"y": {"datum": 0, "type": "quantitative"}}},
   {"data": {"values": [{}]}, "mark": {"type": "rule", "strokeDash": [1.5, 4], "color": "#aaaaaa", "strokeWidth": 1.5}, "encoding": {"x": {"datum": 0, "type": "ordinal", "bandPosition": 0.5}}},
   {"mark": {"type": "errorbar", "ticks": false, "thickness": 1, "opacity": 0.6, "clip": true}, "encoding": {"x": {"field": "m", "type": "ordinal"}, "xOffset": {"field": "s", "type": "nominal"}, "y": {"field": "y", "type": "quantitative", "title": ["Estimate", "(Payment, $)"]}, "yError": {"field": "e"}, "color": {"field": "s", "type": "nominal"}}},
   {"mark": {"type": "point", "filled": true, "size": 22, "opacity": 1, "clip": true}, "encoding": {
     "x": {"field": "m", "type": "ordinal", "scale": {"type": "band", "domain": [-6,-5,-4,-3,-2,-1,0,1,2,3,4,5,6], "paddingInner": 0, "paddingOuter": 0.4}, "axis": {"title": ["Months", "(August 2019 = 0)"], "ticks": false, "labelAngle": 0, "labelPadding": 3, "titlePadding": 4}},
     "xOffset": {"field": "s", "type": "nominal", "scale": {"type": "point", "padding": 3, "domain": ["2.0%,2.5%,3.0%", "Z", "2.0%", "2.5%", "3.0%"]}},
     "y": {"field": "y", "type": "quantitative", "scale": {"domain": [-200, 150], "nice": false, "zero": false}, "axis": {"values": [-200, -150, -100, -50, 0, 50, 100, 150], "labelExpr": "replace(format(datum.value, 'd'), '\u2212', '-')", "title": ["Estimate", "(Payment, $)"]}},
     "color": {"field": "s", "type": "nominal", "scale": {"domain": ["2.0%,2.5%,3.0%", "Z", "2.0%", "2.5%", "3.0%"], "range": ["#000000", "#F0E442", "#56B4E9", "#009E73", "#E69F00"]}, "legend": {"orient": "none", "legendX": 6, "legendY": -17, "direction": "horizontal", "title": null}}}}
  ]}
]}
]
}
